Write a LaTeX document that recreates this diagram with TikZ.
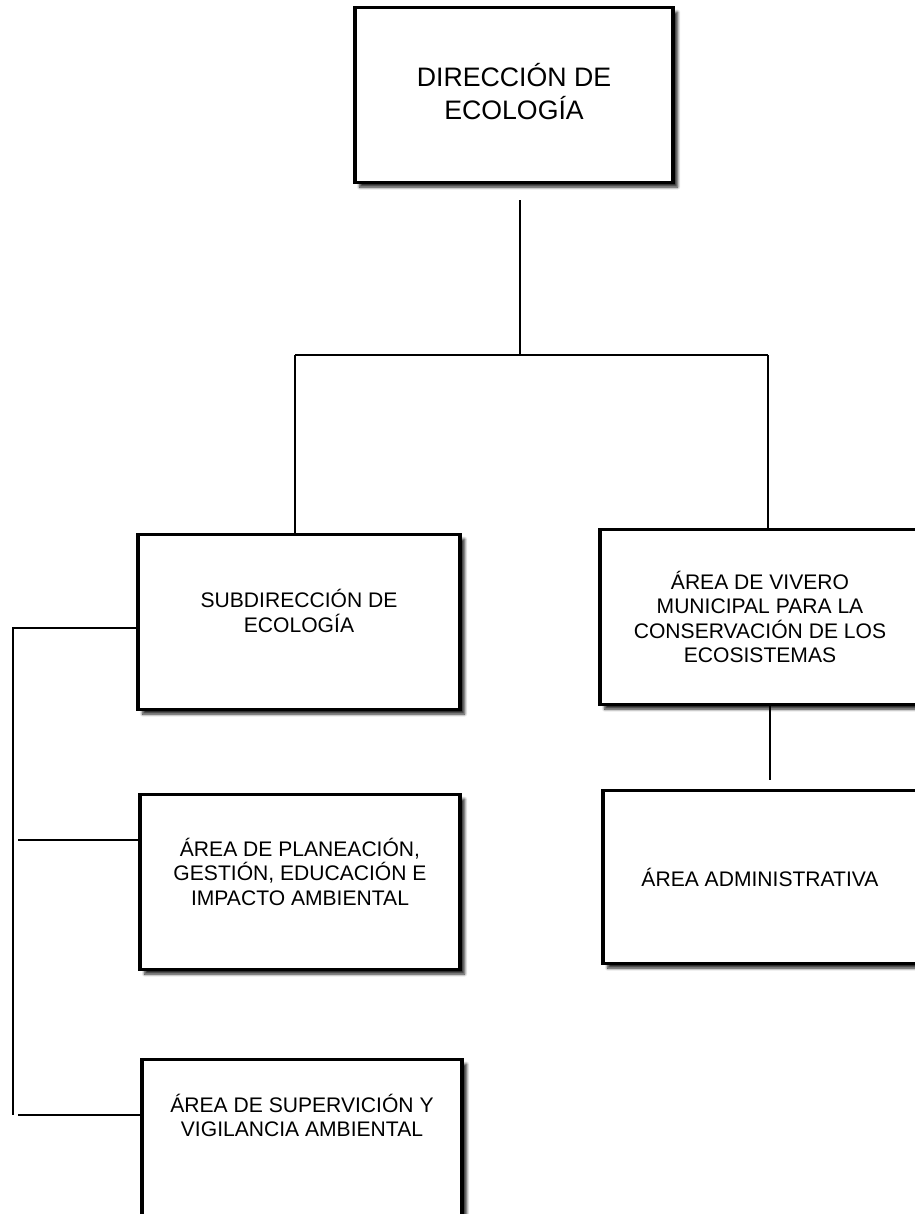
\documentclass[tikz,border=0pt]{standalone}
\usepackage{fontspec}
\setmainfont{Liberation Sans}
\usetikzlibrary{shadows.blur}
\definecolor{ink}{HTML}{000000}
\tikzset{
  box/.style={draw=ink, line width=2.2pt, fill=white, align=center, inner sep=0pt,
    minimum width=6.4cm, minimum height=3.5cm,
    blur shadow={shadow xshift=2.6pt, shadow yshift=-2.6pt, shadow blur radius=1.6pt,
      shadow blur steps=6, shadow opacity=85},
    font=\fontsize{12}{14}\selectfont},
  topbox/.style={box, font=\fontsize{15.2}{18.7}\selectfont},
  conn/.style={draw=ink, line width=1.1pt},
}
\begin{document}
\begin{tikzpicture}[x=0.02cm, y=-0.02cm]
  \useasboundingbox (0,0) rectangle (915,1214);
  \clip (0,0) rectangle (915,1214);
  % boxes
  \node[topbox, minimum width=6.36cm, text depth=4pt] (dir) at (514,95) {DIRECCIÓN DE\\ECOLOGÍA};
  \node[box, minimum width=6.44cm, text depth=13pt] (sub) at (299,622) {SUBDIRECCIÓN DE\\ECOLOGÍA};
  \node[box] (viv) at (760,617) {ÁREA DE VIVERO\\MUNICIPAL PARA LA\\CONSERVACIÓN DE LOS\\ECOSISTEMAS};
  \node[box, minimum width=6.28cm, minimum height=3.46cm] (adm) at (760,877) {ÁREA ADMINISTRATIVA};
  \node[box, text depth=12pt] (plan) at (300,882) {ÁREA DE PLANEACIÓN,\\GESTIÓN, EDUCACIÓN E\\IMPACTO AMBIENTAL};
  \node[box, text depth=36pt] (sup) at (302,1147) {ÁREA DE SUPERVICIÓN Y\\VIGILANCIA AMBIENTAL};
  % junctions
  \coordinate (top) at (520,200);
  \coordinate (hub) at (520,355);
  \coordinate (barl) at (295,355);
  \coordinate (barr) at (768,355);
  \coordinate (admtop) at (770,780);
  \coordinate (spine) at (13,628);
  \coordinate (spineend) at (13,1115);
  \coordinate (planl) at (18,840);
  \coordinate (supl) at (18,1115);
  % connectors
  \draw[conn] (top) -- (hub);
  \draw[conn] (barl) -- (barr);
  \draw[conn] (barl) -- (barl |- sub.north);
  \draw[conn] (barr) -- (barr |- viv.north);
  \draw[conn] (viv.south -| admtop) -- (admtop);
  \draw[conn] (sub.west |- spine) -- (spine) -- (spineend);
  \draw[conn] (planl) -- (plan.west |- planl);
  \draw[conn] (supl) -- (sup.west |- supl);
\end{tikzpicture}
\end{document}
